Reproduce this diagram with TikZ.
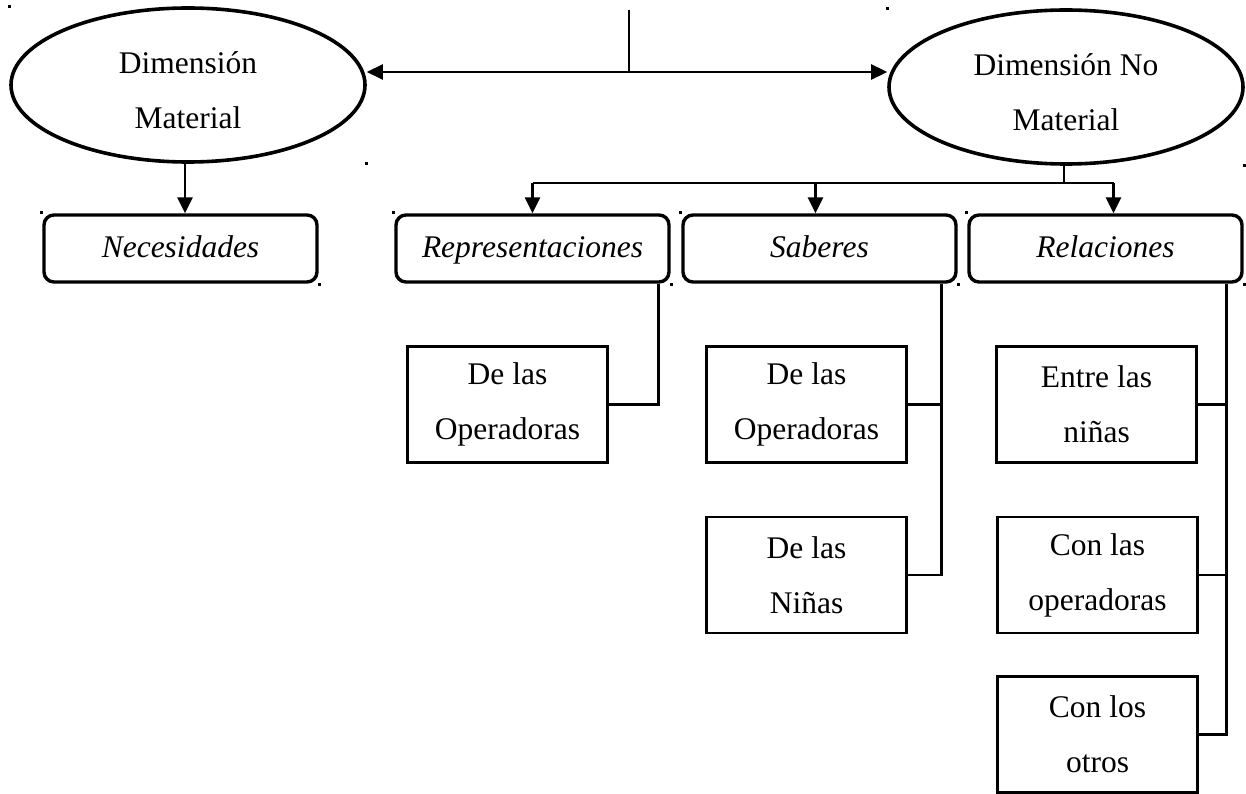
\documentclass[tikz,border=0pt]{standalone}
\usepackage{fontspec}
\setmainfont{Liberation Serif}
\usetikzlibrary{arrows.meta,shapes.geometric}

\newcommand{\diagfont}{\fontsize{31.5}{55}\selectfont}
\newcommand{\topstrut}{\rule{0pt}{32pt}}

\tikzset{
    dimension/.style = {shape = ellipse, draw, line width = 3.6pt, minimum width = 354pt, minimum height = 154pt, inner sep = 0pt, align = center, font = \diagfont},
    category/.style = {shape = rectangle, draw, rounded corners = 10pt, line width = 3.4pt, minimum width = 273pt, minimum height = 67pt, text height = 22pt, text depth = 5pt, font = \diagfont\itshape},
    subbox/.style = {shape = rectangle, draw, line width = 2.2pt, minimum width = 200pt, minimum height = 116pt, align = center, font = \diagfont},
    connector/.style = {line width = 2.6pt},
    arrowlink/.style = {connector, -{Triangle[length = 16pt, width = 15pt]}},
    cornerdot/.style = {fill = black}
}

\begin{document}
\begin{tikzpicture}[x = 1pt, y = -1pt]
    \useasboundingbox (0,0) rectangle (1246,794);

    % the two dimensions
    \node[dimension] (matL) at (188,85) {\topstrut Dimensión\\Material};
    \node[dimension] (matN) at (1066,87) {\topstrut Dimensión No\\Material};

    % categories
    \node[category] (nec) at (180.5,248.5) {Necesidades};
    \node[category] (rep) at (532.5,248.5) {Representaciones};
    \node[category] (sab) at (819.5,248.5) {Saberes};
    \node[category] (rel) at (1105.5,248.5) {Relaciones};

    % sub categories
    \node[subbox] (repA) at (507.5,404.5) {De las\\Operadoras};
    \node[subbox] (sabA) at (806.5,404.5) {De las\\Operadoras};
    \node[subbox] (sabB) at (806.5,575) {De las\\Niñas};
    \node[subbox] (relA) at (1096.5,404.5) {Entre las\\niñas};
    \node[subbox] (relB) at (1097.5,575) {Con las\\operadoras};
    \node[subbox] (relC) at (1097.5,734.5) {Con los\\otros};

    % top connector
    \coordinate (top) at (629,10);
    \coordinate (hub) at (629,72);
    \draw[connector] (top) -- (hub);
    \draw[arrowlink] (hub) -- (hub -| matL.east);
    \draw[arrowlink] (hub) -- (hub -| matN.west);

    \draw[arrowlink] ([xshift=-3pt]matL.south) -- ([xshift=-3pt]matL.south |- nec.north);

    % branching below the right dimension
    \coordinate (split) at (1064,183);
    \draw[connector] ([xshift=-2pt]matN.south) -- ([xshift=-2pt]matN.south |- split);
    \draw[connector] (rep.north |- split) -- ([xshift=8pt]rel.north |- split);
    \foreach \n/\dx in {rep/0, sab/-4, rel/8}
        \draw[arrowlink] ([xshift=\dx pt]\n.north |- split) -- ([xshift=\dx pt]\n.north);

    % side lines to the sub categories
    \draw[connector] ([xshift=-12pt]rep.south east) |- (repA.east);
    \draw[connector] ([xshift=-16pt]sab.south east) coordinate (sabT) |- (sabB.east);
    \draw[connector] (sabA.east) -- (sabA.east -| sabT);
    \draw[connector] ([xshift=-17pt]rel.south east) coordinate (relT) |- (relC.east);
    \foreach \n in {relA, relB}
        \draw[connector] (\n.east) -- (\n.east -| relT);

    % small corner marks
    \foreach \n in {matL, matN} {
        \fill[cornerdot] ([shift={(-1.5,-1.5)}]\n.west |- \n.north) rectangle ++(3,3);
        \fill[cornerdot] ([shift={(-1.5,-1.5)}]\n.east |- \n.south) rectangle ++(3,3);
    }
    \foreach \n in {nec, rep, sab, rel} {
        \fill[cornerdot] ([shift={(-2,-2)}]\n.north west) rectangle ++(3,3);
        \fill[cornerdot] ([shift={(-1,-1)}]\n.south east) rectangle ++(3,3);
    }
\end{tikzpicture}
\end{document}
